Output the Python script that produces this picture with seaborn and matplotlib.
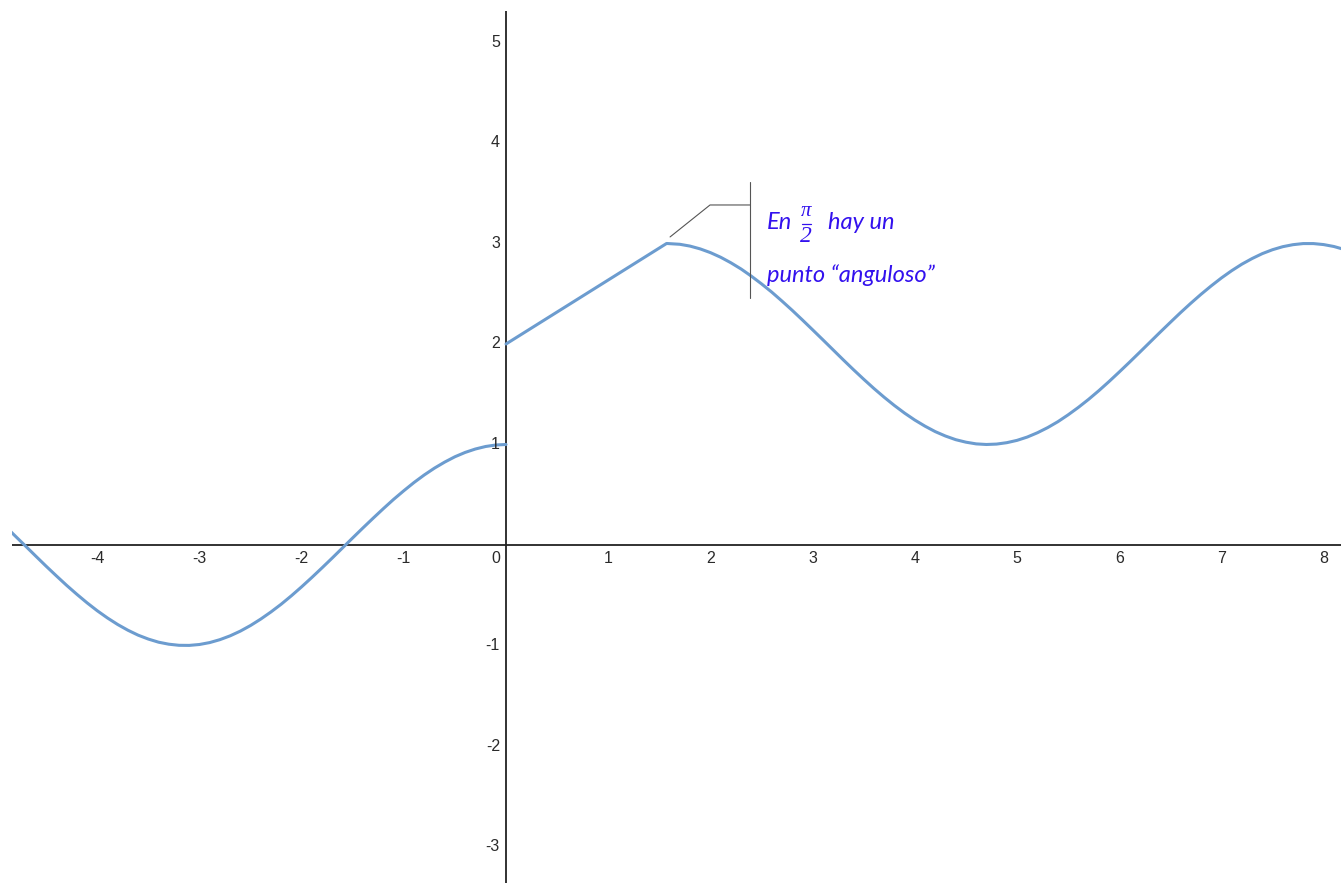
import matplotlib
matplotlib.use("Agg")
import matplotlib.pyplot as plt
import seaborn as sns
import pandas as pd

# ---- data ----
# left branch (x < 0)
x_left = [-4.9, -4.8, -4.7, -4.6, -4.5, -4.4, -4.3, -4.2, -4.1, -4.0, -3.9, -3.8, -3.7,
          -3.6, -3.5, -3.4, -3.3, -3.2, -3.1, -3.0, -2.9, -2.8, -2.7, -2.6, -2.5, -2.4,
          -2.3, -2.2, -2.1, -2.0, -1.9, -1.8, -1.7, -1.6, -1.5, -1.4, -1.3, -1.2, -1.1,
          -1.0, -0.9, -0.8, -0.7, -0.6, -0.5, -0.4, -0.3, -0.2, -0.1, 0.0]
y_left = [0.187, 0.087, -0.012, -0.112, -0.211, -0.307, -0.401, -0.490, -0.575, -0.654,
          -0.726, -0.791, -0.848, -0.897, -0.936, -0.967, -0.987, -0.998, -0.999, -0.990,
          -0.971, -0.942, -0.904, -0.857, -0.801, -0.737, -0.666, -0.589, -0.505, -0.416,
          -0.323, -0.227, -0.129, -0.029, 0.071, 0.170, 0.267, 0.362, 0.454, 0.540,
          0.622, 0.697, 0.765, 0.825, 0.878, 0.921, 0.955, 0.980, 0.995, 1.000]

# right branch (x >= 0): straight piece then wave
x_right = [0.0, 1.571, 1.7, 1.8, 1.9, 2.0, 2.1, 2.2, 2.3, 2.4, 2.5, 2.6, 2.7, 2.8, 2.9,
           3.0, 3.1, 3.2, 3.3, 3.4, 3.5, 3.6, 3.7, 3.8, 3.9, 4.0, 4.1, 4.2, 4.3, 4.4,
           4.5, 4.6, 4.7, 4.8, 4.9, 5.0, 5.1, 5.2, 5.3, 5.4, 5.5, 5.6, 5.7, 5.8, 5.9,
           6.0, 6.1, 6.2, 6.3, 6.4, 6.5, 6.6, 6.7, 6.8, 6.9, 7.0, 7.1, 7.2, 7.3, 7.4,
           7.5, 7.6, 7.7, 7.8, 7.9, 8.0, 8.1, 8.2]
y_right = [2.000, 3.000, 2.992, 2.974, 2.946, 2.909, 2.863, 2.808, 2.746, 2.675, 2.598,
           2.516, 2.427, 2.335, 2.239, 2.141, 2.042, 1.942, 1.842, 1.744, 1.649, 1.557,
           1.470, 1.388, 1.312, 1.243, 1.182, 1.128, 1.084, 1.048, 1.023, 1.006, 1.000,
           1.004, 1.018, 1.041, 1.074, 1.117, 1.168, 1.227, 1.295, 1.369, 1.449, 1.535,
           1.626, 1.721, 1.818, 1.917, 2.017, 2.117, 2.215, 2.312, 2.405, 2.494, 2.578,
           2.657, 2.729, 2.794, 2.850, 2.899, 2.938, 2.968, 2.988, 2.999, 2.999, 2.989,
           2.970, 2.941]

x_ticks = [-4, -3, -2, -1, 1, 2, 3, 4, 5, 6, 7, 8]
y_ticks = [-3, -2, -1, 1, 2, 3, 4, 5]

# ---- figure ----
sns.set_theme(style="white")
plt.rcParams['font.family'] = ['Liberation Sans', 'DejaVu Sans']

W, H = 1341, 883
fig = plt.figure(figsize=(W / 100, H / 100), dpi=100)
fig.patch.set_facecolor("white")
ax = fig.add_axes([12 / W, 0, (W - 12) / W, (H - 11) / H])
ax.set_facecolor("white")
for s in ax.spines.values():
    s.set_visible(False)
ax.set_xticks([])
ax.set_yticks([])
ax.set_xlim(-4.834, 8.170)
ax.set_ylim(-3.363, 5.313)

# axes lines
ax.axhline(0, color="#222222", lw=1.3, zorder=2)
ax.axvline(0, color="#222222", lw=1.3, zorder=2)

curve_color = "#6c9ccf"
df_l = pd.DataFrame({"x": x_left, "y": y_left})
df_r = pd.DataFrame({"x": x_right, "y": y_right})
for d in (df_l, df_r):
    sns.lineplot(data=d, x="x", y="y", ax=ax, color=curve_color, lw=2.2,
                 sort=False, estimator=None, zorder=3,
                 solid_joinstyle="round", solid_capstyle="round")
ax.set_xlabel("")
ax.set_ylabel("")

# tick labels
tick_kw = dict(fontsize=11.5, color="#2a2a2a", family=['Liberation Sans', 'DejaVu Sans'])
for t in x_ticks:
    ax.text(t, -0.13, str(t), ha="center", va="center", **tick_kw)
for t in y_ticks:
    ax.text(-0.06, t, str(t), ha="right", va="center", **tick_kw)
ax.text(-0.10, -0.13, "0", ha="center", va="center", **tick_kw)

# annotation bracket
ann_color = "#555555"
ax.plot([1.605, 1.996, 2.387], [3.065, 3.383, 3.383], color=ann_color, lw=0.8, zorder=4)
ax.plot([2.387, 2.387], [2.458, 3.612], color=ann_color, lw=0.8, zorder=4)

txt_color = "#3311ee"
txt_kw = dict(fontsize=17, color=txt_color, style="italic", family=['Lato', 'DejaVu Sans'])
ax.text(2.554, 3.144, "En", ha="left", va="baseline", **txt_kw)
ax.text(3.151, 3.144, "hay un", ha="left", va="baseline", **txt_kw)
ax.text(2.554, 2.62, "punto \u201canguloso\u201d", ha="left", va="baseline", **txt_kw)

frac_kw = dict(color=txt_color, style="italic", family=['Liberation Serif', 'DejaVu Serif'])
ax.text(2.935, 3.323, "\u03c0", ha="center", va="center", fontsize=15, **frac_kw)
ax.text(2.935, 3.065, "2", ha="center", va="center", fontsize=17, **frac_kw)
ax.plot([2.892, 2.981], [3.194, 3.194], color=txt_color, lw=0.9, zorder=4)

fig.savefig("out.png", dpi=100, facecolor="white")
